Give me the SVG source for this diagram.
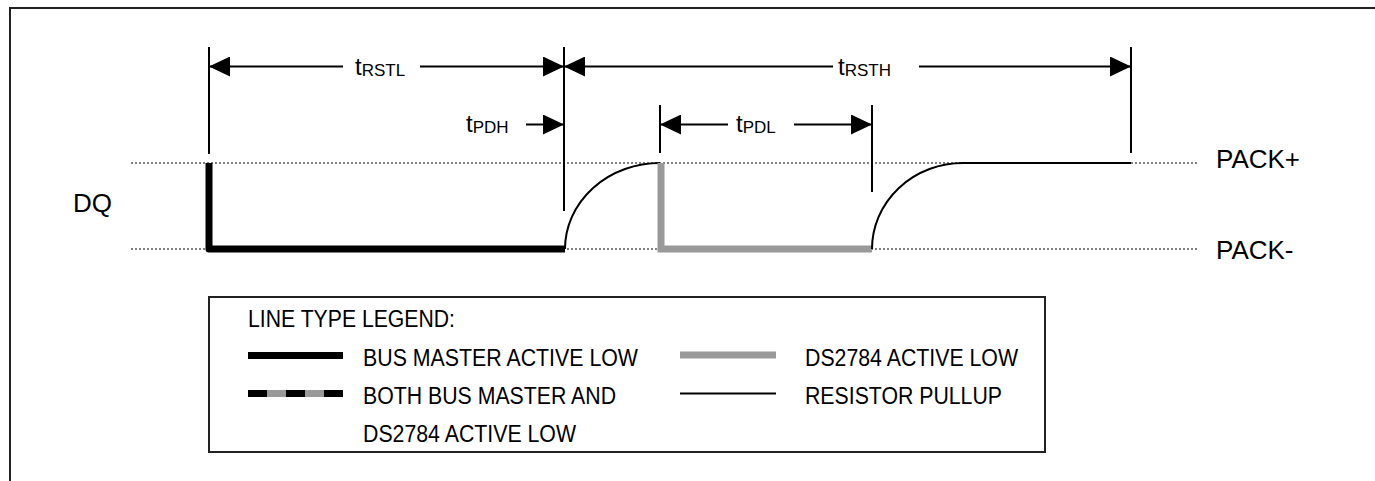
<svg xmlns="http://www.w3.org/2000/svg" width="1375" height="481" viewBox="0 0 1375 481">
  <style>
    .t { font-family: "Liberation Sans", Arial, sans-serif; fill: #000; }
    .lbl { font-size: 26px; }
    .tm { font-size: 24px; }
    .sub { font-size: 17px; }
    .leg { font-size: 23.5px; }
    .dot { stroke: #000; stroke-width: 1; stroke-dasharray: 2 2; fill: none; }
    .mk { stroke: #000; stroke-width: 2; fill: none; }
    .dim { stroke: #000; stroke-width: 2; fill: none; marker-end: url(#ah); }
    .bm { stroke: #000; stroke-width: 7; fill: none; stroke-linejoin: round; }
    .ds { stroke: #999; stroke-width: 7; fill: none; stroke-linejoin: miter; }
    .pu { stroke: #000; stroke-width: 2; fill: none; }
  </style>
  <defs>
    <marker id="ah" markerUnits="userSpaceOnUse" markerWidth="21" markerHeight="20" refX="21" refY="10" orient="auto" viewBox="0 0 21 20">
      <path d="M0,0 L21,10 L0,20 z" fill="#000"/>
    </marker>
  </defs>
  <rect width="1375" height="481" fill="#fff"/>
  <path d="M10,481 V8 H1375" fill="none" stroke="#222" stroke-width="2"/>

  <g id="levels">
    <line class="dot" x1="131" y1="163" x2="1197" y2="163"/>
    <line class="dot" x1="131" y1="249" x2="1197" y2="249"/>
  </g>

  <g id="waveform">
    <path class="bm" d="M209,163 V249 H565"/>
    <path class="pu" d="M565,249 A95,86 0 0 1 660,163"/>
    <path class="ds" d="M661,163 V249 H872"/>
    <path class="pu" d="M872,249 A91,86 0 0 1 963,163 H1131"/>
  </g>

  <g id="connectors">
    <line class="mk" x1="209" y1="47" x2="209" y2="154"/>
    <line class="mk" x1="564" y1="47" x2="564" y2="211"/>
    <line class="mk" x1="1131" y1="47" x2="1131" y2="153"/>
    <line class="mk" x1="660" y1="105" x2="660" y2="153"/>
    <line class="mk" x1="872" y1="105" x2="872" y2="192"/>
    <line class="dim" x1="343" y1="66.5" x2="209" y2="66.5"/>
    <line class="dim" x1="420" y1="66.5" x2="564" y2="66.5"/>
    <line class="dim" x1="833" y1="66.5" x2="564" y2="66.5"/>
    <line class="dim" x1="919" y1="66.5" x2="1131" y2="66.5"/>
    <line class="dim" x1="526" y1="124.5" x2="564" y2="124.5"/>
    <line class="dim" x1="728" y1="124.5" x2="660" y2="124.5"/>
    <line class="dim" x1="794" y1="124.5" x2="872" y2="124.5"/>
  </g>

  <g id="timing-labels">
    <text class="t tm" x="355" y="75">t<tspan class="sub" dy="1">RSTL</tspan></text>
    <text class="t tm" x="838" y="75">t<tspan class="sub" dy="1">RSTH</tspan></text>
    <text class="t tm" x="466" y="132">t<tspan class="sub" dy="1">PDH</tspan></text>
    <text class="t tm" x="736" y="132">t<tspan class="sub" dy="1">PDL</tspan></text>
  </g>

  <g id="signal-labels">
    <text class="t lbl" x="73" y="212">DQ</text>
    <text class="t lbl" x="1216" y="168">PACK+</text>
    <text class="t lbl" x="1216" y="259">PACK-</text>
  </g>

  <g id="legend">
    <rect x="209" y="297" width="836" height="155" fill="none" stroke="#222" stroke-width="2"/>
    <text class="t leg" x="248" y="327" textLength="207" lengthAdjust="spacingAndGlyphs">LINE TYPE LEGEND:</text>
    <line class="bm" x1="248" y1="355.5" x2="343" y2="355.5"/>
    <text class="t leg" x="363" y="366" textLength="275" lengthAdjust="spacingAndGlyphs">BUS MASTER ACTIVE LOW</text>
    <line x1="248" y1="393.5" x2="343" y2="393.5" stroke="#999" stroke-width="7"/>
    <line x1="248" y1="393.5" x2="343" y2="393.5" stroke="#000" stroke-width="7" stroke-dasharray="19 19"/>
    <text class="t leg" x="363" y="404" textLength="253" lengthAdjust="spacingAndGlyphs">BOTH BUS MASTER AND</text>
    <text class="t leg" x="363" y="442" textLength="213" lengthAdjust="spacingAndGlyphs">DS2784 ACTIVE LOW</text>
    <line class="ds" x1="680" y1="355" x2="776" y2="355"/>
    <text class="t leg" x="805" y="366" textLength="213" lengthAdjust="spacingAndGlyphs">DS2784 ACTIVE LOW</text>
    <line class="pu" x1="680" y1="393.5" x2="776" y2="393.5"/>
    <text class="t leg" x="805" y="404" textLength="197" lengthAdjust="spacingAndGlyphs">RESISTOR PULLUP</text>
  </g>
</svg>
